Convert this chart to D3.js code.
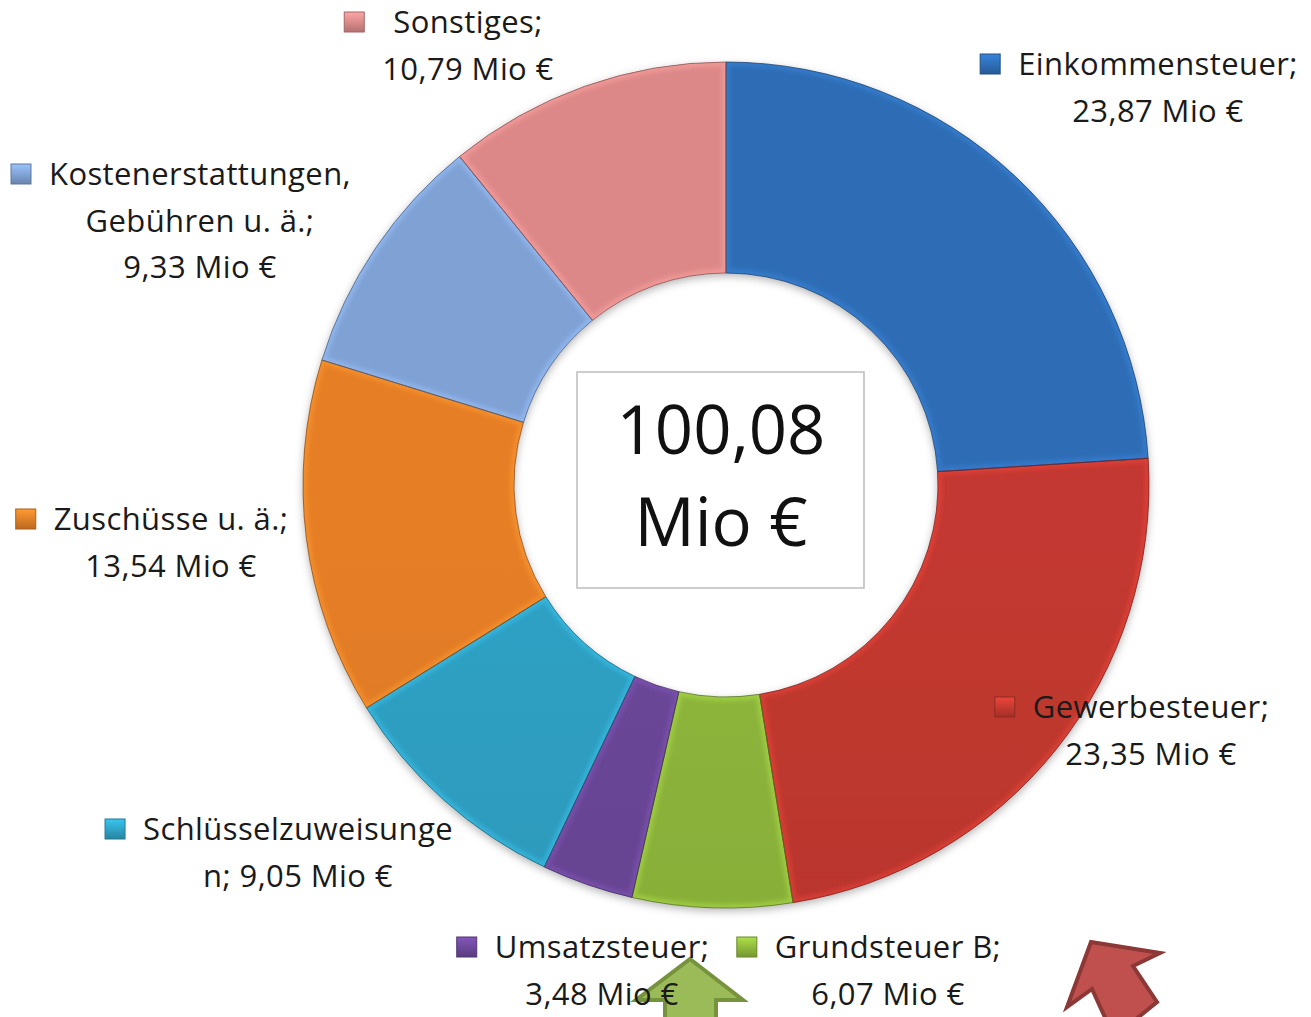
<!DOCTYPE html>
<html>
<head>
<meta charset="utf-8">
<script src="https://cdn.jsdelivr.net/npm/d3@7"></script>
<style>
  body { margin: 0; background: #fff; }
  svg { display: block; }
</style>
</head>
<body>
<div id="chart"></div>
<script>
// data, clockwise from 12 o'clock
const categories = ["Einkommensteuer", "Gewerbesteuer", "Grundsteuer B", "Umsatzsteuer",
    "Schlüsselzuweisungen", "Zuschüsse u. ä.", "Kostenerstattungen, Gebühren u. ä.", "Sonstiges"];
const values = [23.87, 23.35, 6.07, 3.48, 9.05, 13.54, 9.33, 10.79];
const totalLines = ["100,08", "Mio €"];
const colors = ["#2d6bb2", "#c0382f", "#8cb53b", "#6a4697", "#2e9fc2", "#e27c26", "#7d9ed0", "#d98686"];

// where each label was placed (text centre x, first baseline y)
const labelPos = [[1158, 75], [1151, 718], [888, 958], [602, 958], [298, 840], [171, 530], [200, 185], [468, 33]];

let width = 1311, height = 1017;
let cx = 726, cy = 485, rOuter = 423, rInner = 212;

let fmt = v => d3.format(".2f")(v).replace(".", ",");

// the original labels wrapped in a couple of odd spots
function labelLines(name, v) {
    let val = fmt(v) + " Mio €";
    if (name === "Schlüsselzuweisungen") return ["Schlüsselzuweisunge", "n; " + val];
    if (name.indexOf(",") > 0) {
        let parts = name.split(", ");
        return [parts[0] + ",", parts[1] + ";", val];
    }
    return [name + ";", val];
}

let svg = d3.select('#chart').append('svg')
    .attr('width', width)
    .attr('height', height);

let defs = svg.append('defs');

let shadow = defs.append('filter').attr('id', 'shadow')
    .attr('x', '-10%').attr('y', '-10%').attr('width', '120%').attr('height', '120%');
shadow.append('feDropShadow')
    .attr('dx', 0).attr('dy', 3).attr('stdDeviation', 4)
    .attr('flood-color', '#000').attr('flood-opacity', 0.3);

let soft = defs.append('filter').attr('id', 'soft');
soft.append('feGaussianBlur').attr('stdDeviation', 2);

colors.forEach((c, i) => {
    let g = defs.append('linearGradient').attr('id', 'grad' + i)
        .attr('gradientUnits', 'userSpaceOnUse')
        .attr('x1', 0).attr('y1', cy - rOuter).attr('x2', 0).attr('y2', cy + rOuter);
    g.append('stop').attr('offset', '0%').attr('stop-color', d3.color(c).brighter(0.05));
    g.append('stop').attr('offset', '100%').attr('stop-color', d3.color(c).darker(0.3));

    let k = defs.append('linearGradient').attr('id', 'key' + i)
        .attr('x1', 0).attr('y1', 0).attr('x2', 0).attr('y2', 1);
    k.append('stop').attr('offset', '0%').attr('stop-color', d3.color(c).brighter(0.6));
    k.append('stop').attr('offset', '100%').attr('stop-color', d3.color(c).darker(0.5));
});

let pie = d3.pie().sort(null).value(d => d);
let arc = d3.arc().innerRadius(rInner).outerRadius(rOuter);
let arcs = pie(values);

let ring = svg.append('g').attr('transform', `translate(${cx},${cy})`);

arcs.forEach((a, i) => {
    defs.append('clipPath').attr('id', 'clip' + i)
        .append('path').attr('d', arc(a));
});

ring.append('g').attr('filter', 'url(#shadow)')
    .selectAll('path.slice')
    .data(arcs)
    .join('path')
    .attr('class', 'slice')
    .attr('d', arc)
    .attr('fill', (d, i) => `url(#grad${i})`);

// bevel highlight along the slice edges
ring.selectAll('g.bevel')
    .data(arcs)
    .join('g')
    .attr('class', 'bevel')
    .attr('clip-path', (d, i) => `url(#clip${i})`)
    .append('path')
    .attr('d', arc)
    .attr('fill', 'none')
    .attr('stroke', (d, i) => d3.color(colors[i]).brighter(0.6))
    .attr('stroke-width', 8)
    .attr('stroke-opacity', 0.55)
    .attr('filter', 'url(#soft)');

ring.selectAll('path.edge')
    .data(arcs)
    .join('path')
    .attr('class', 'edge')
    .attr('d', arc)
    .attr('fill', 'none')
    .attr('stroke', (d, i) => d3.color(colors[i]).darker(1.4))
    .attr('stroke-width', 1)
    .attr('stroke-opacity', 0.75);

// total in the middle
svg.append('rect')
    .attr('x', 577).attr('y', 372)
    .attr('width', 287).attr('height', 216)
    .attr('fill', '#fff')
    .attr('stroke', '#bdbdbd')
    .attr('stroke-width', 1.5);

svg.append('g').selectAll('text')
    .data(totalLines)
    .join('text')
    .attr('x', 721)
    .attr('y', (d, i) => 454 + i * 92)
    .attr('text-anchor', 'middle')
    .attr('font-family', '"Open Sans", sans-serif')
    .attr('font-size', 67)
    .attr('fill', '#111')
    .text(d => d);

// the two arrows that were pasted over the chart (text sits on top of them)
let arrows = svg.append('g').attr('stroke-width', 4).attr('stroke-linejoin', 'miter');
arrows.append('path')
    .attr('d', 'M690,959 L743,1000 L716,1000 L716,1020 L665,1020 L665,1000 L636,1000 Z')
    .attr('fill', '#9bbb59')
    .attr('stroke', '#76923c');
arrows.append('path')
    .attr('d', 'M1091,942 L1160,953 L1133,966 L1157,1002 L1130,1024 L1108,1024 L1092,989 L1067,1007 Z')
    .attr('fill', '#c0504d')
    .attr('stroke', '#8c3836');

// labels with legend keys
let fontSize = 31, lineH = 46.5;
categories.forEach((name, i) => {
    let [tx, ty] = labelPos[i];
    let lines = labelLines(name, values[i]);
    let g = svg.append('g');
    let texts = g.selectAll('text')
        .data(lines)
        .join('text')
        .attr('x', tx)
        .attr('y', (d, j) => ty + j * lineH)
        .attr('text-anchor', 'middle')
        .attr('font-family', '"Open Sans", sans-serif')
        .attr('font-size', fontSize)
        .attr('letter-spacing', 0.4)
        .attr('fill', '#1a1a1a')
        .text(d => d);
    let maxW = d3.max(texts.nodes(), n => n.getComputedTextLength());
    g.insert('rect', 'text')
        .attr('x', tx - maxW / 2 - 18 - 20)
        .attr('y', ty - 21)
        .attr('width', 20).attr('height', 20)
        .attr('fill', `url(#key${i})`)
        .attr('stroke', d3.color(colors[i]).darker(0.8))
        .attr('stroke-width', 1);
});
</script>
</body>
</html>
